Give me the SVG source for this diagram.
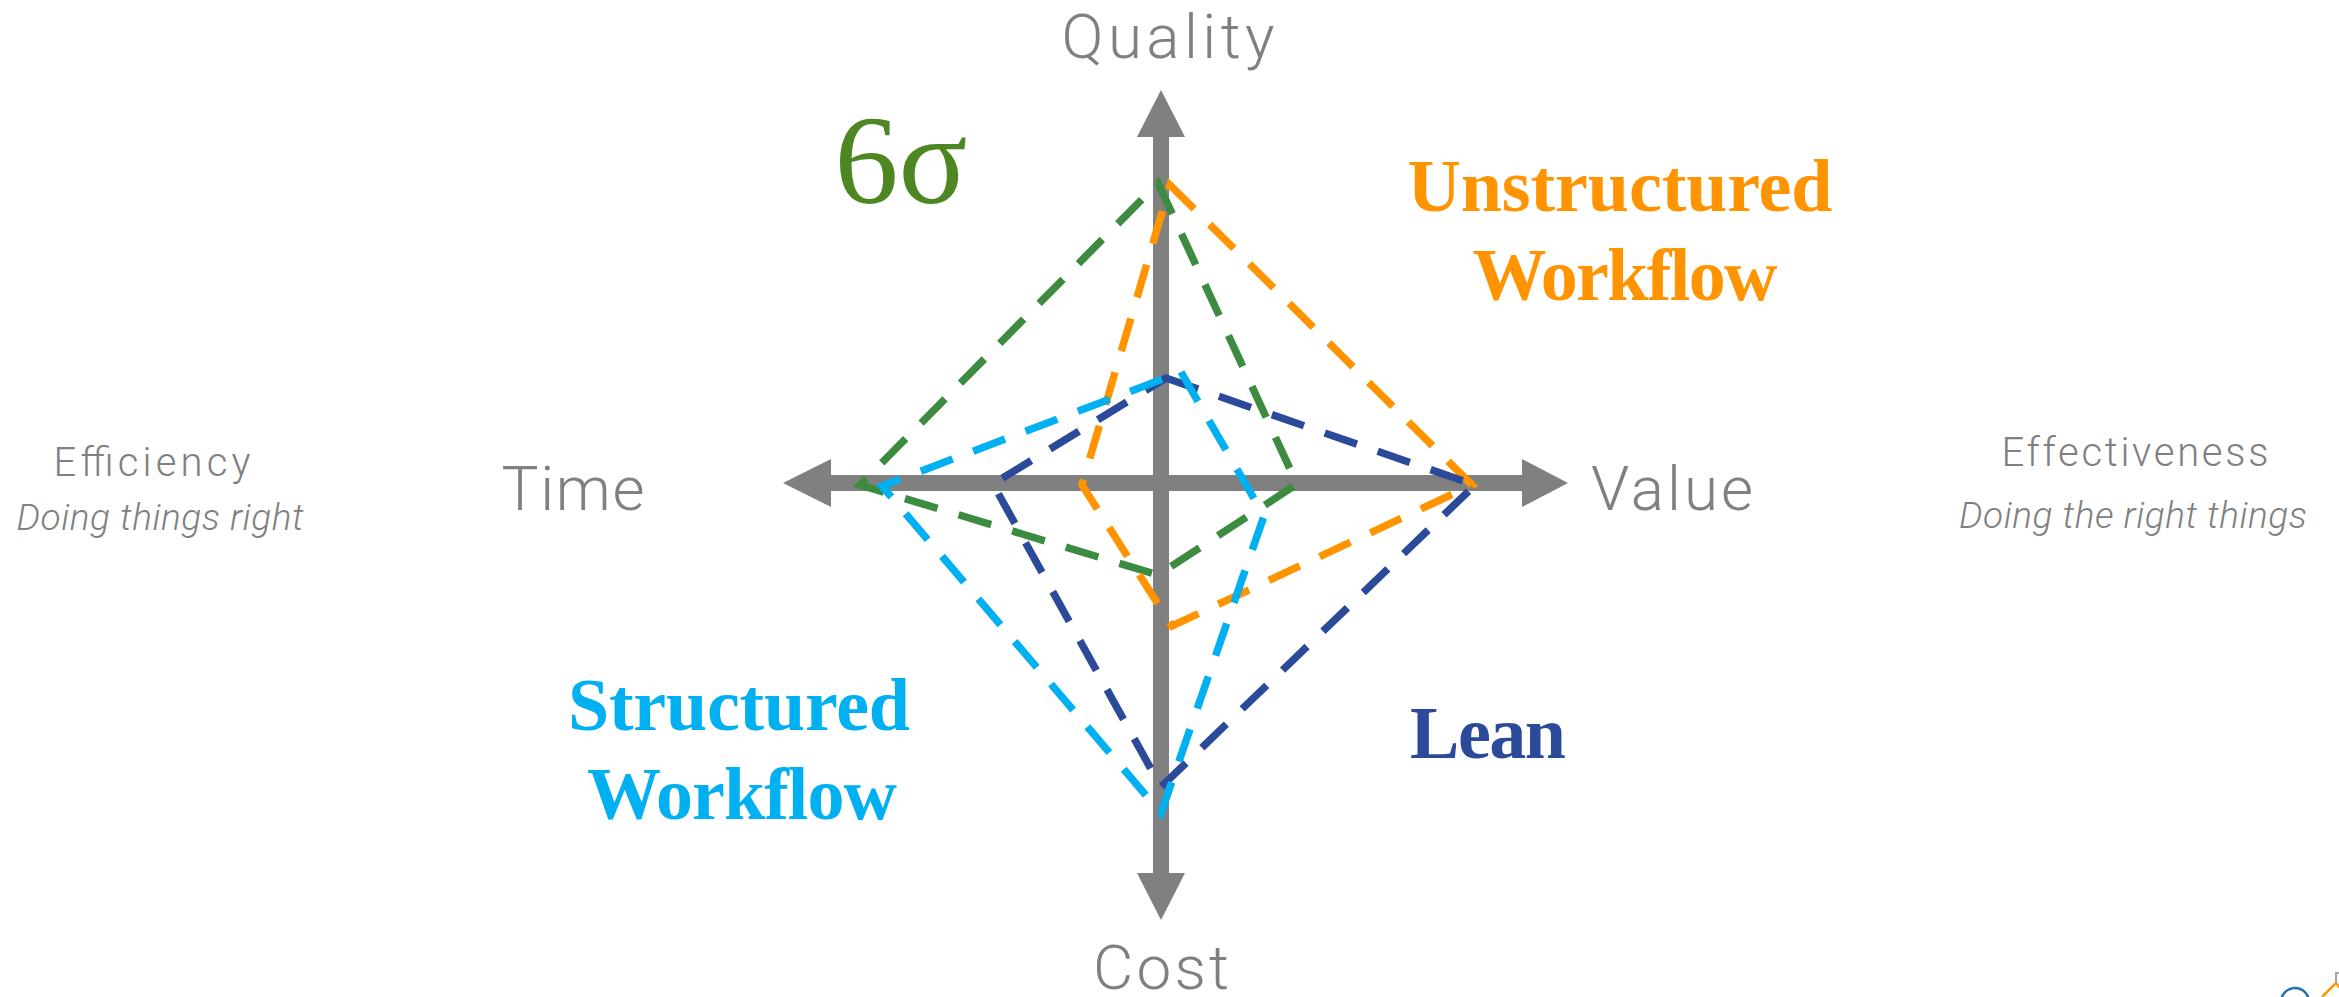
<svg xmlns="http://www.w3.org/2000/svg" width="2339" height="997" viewBox="0 0 2339 997">
  <style>
    .axis { fill: #808080; }
    .lbl { font-family: Roboto, "Liberation Sans", sans-serif; font-weight: 300; fill: #808080; text-anchor: middle; }
    .big { font-size: 62px; }
    .sub { font-size: 40px; }
    .it { font-size: 37px; font-style: italic; }
    .ser { font-family: "Liberation Serif", "Times New Roman", serif; font-weight: bold; text-anchor: middle; font-size: 74px; }
    .dash { fill: none; stroke-width: 7.5; stroke-dasharray: 34 22; stroke-linejoin: miter; }
  </style>
  <rect width="2339" height="997" fill="#ffffff"/>

  <g id="axes">
    <rect class="axis" x="1153" y="136" width="16" height="738"/>
    <polygon class="axis" points="1161,90 1185,137 1137,137"/>
    <polygon class="axis" points="1161,920 1185,873 1137,873"/>
    <rect class="axis" x="830" y="475" width="693" height="16"/>
    <polygon class="axis" points="783,483 831,459 831,507"/>
    <polygon class="axis" points="1568,483 1522,459 1522,507"/>
  </g>

  <g id="connectors">
    <polygon id="six-sigma-line" class="dash" stroke="#3C8B40" points="1158,183 1297,484 1158,575 860,485"/>
    <polygon id="unstructured-line" class="dash" stroke="#FF9400" points="1170,185 1472,485 1172,626 1082,485"/>
    <polygon id="lean-line" class="dash" stroke="#2B4A9A" points="1166,378 1475,485 1161,787 993,484"/>
    <polygon id="structured-line" class="dash" stroke="#00B0F0" points="1181,372 1264,516 1161,813 882,486"/>
  </g>

  <g id="axis-labels">
    <text class="lbl big" x="1168" y="58" textLength="213" lengthAdjust="spacing">Quality</text>
    <text class="lbl big" x="1161" y="989" textLength="136" lengthAdjust="spacing">Cost</text>
    <text class="lbl big" x="573" y="510" textLength="143" lengthAdjust="spacing">Time</text>
    <text class="lbl big" x="1672" y="510" textLength="162" lengthAdjust="spacing">Value</text>
  </g>

  <g id="efficiency">
    <text class="lbl sub" x="152" y="476" textLength="197" lengthAdjust="spacing">Efficiency</text>
    <text class="lbl it" x="160" y="530" textLength="287" lengthAdjust="spacing">Doing things right</text>
  </g>

  <g id="effectiveness">
    <text class="lbl sub" x="2135" y="466" textLength="267" lengthAdjust="spacing">Effectiveness</text>
    <text class="lbl it" x="2133" y="528" textLength="348" lengthAdjust="spacing">Doing the right things</text>
  </g>

  <g id="six-sigma">
    <text x="901" y="203" font-family="'Liberation Serif', 'Times New Roman', serif" font-size="128" fill="#4E8624" text-anchor="middle">6σ</text>
  </g>

  <g id="unstructured-workflow">
    <text class="ser" fill="#FF9400" x="1620" y="211" textLength="425" lengthAdjust="spacing">Unstructured</text>
    <text class="ser" fill="#FF9400" x="1625" y="300" textLength="305" lengthAdjust="spacing">Workflow</text>
  </g>

  <g id="structured-workflow">
    <text class="ser" fill="#00B0F0" x="739" y="730" textLength="342" lengthAdjust="spacing">Structured</text>
    <text class="ser" fill="#00B0F0" x="742" y="819" textLength="310" lengthAdjust="spacing">Workflow</text>
  </g>

  <g id="lean">
    <text class="ser" fill="#2B4A9A" x="1488" y="758" textLength="156" lengthAdjust="spacing">Lean</text>
  </g>

  <g id="corner-logo">
    <circle cx="2295" cy="1002" r="14" fill="none" stroke="#1F6FB2" stroke-width="2.5"/>
    <polyline points="2322,997 2336,983 2341,989" fill="none" stroke="#FF9400" stroke-width="2.5"/>
    <polyline points="2336,983 2336,973 2341,973" fill="none" stroke="#A6A6A6" stroke-width="2"/>
  </g>
</svg>
